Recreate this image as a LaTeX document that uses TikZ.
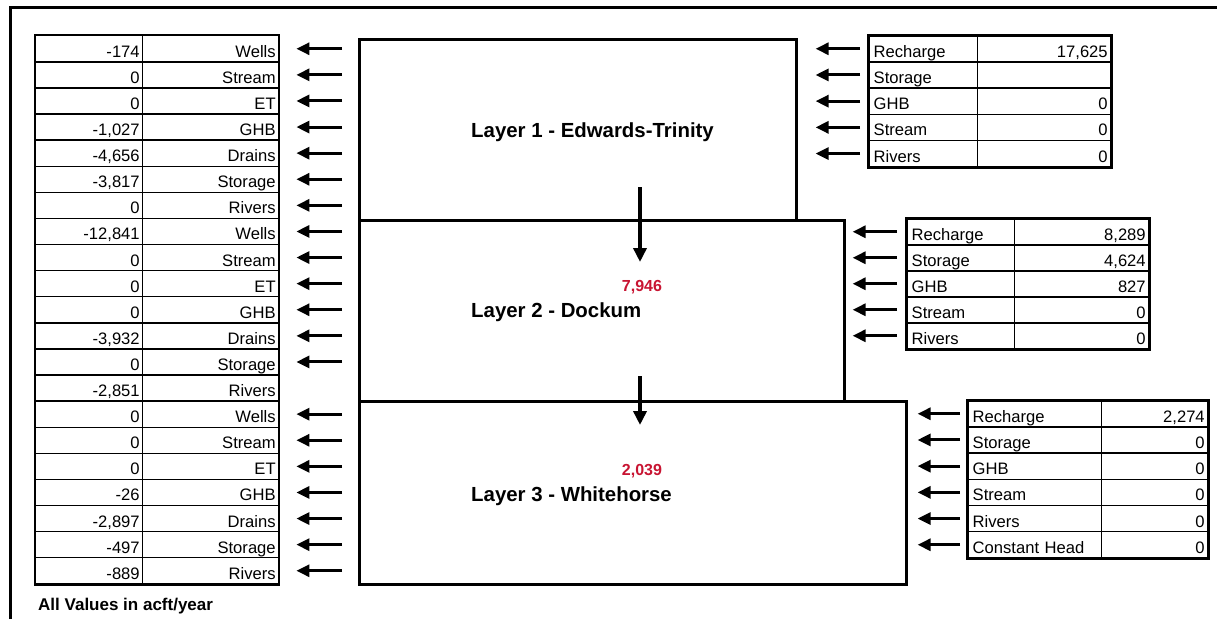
\documentclass[tikz,border=0pt]{standalone}
\usepackage{fontspec}
\setmainfont{Liberation Sans}
\usetikzlibrary{arrows.meta}
\definecolor{numred}{RGB}{200,20,50}
\newcommand\tabfont{\fontsize{16.6}{18}\selectfont}
\begin{document}
\begin{tikzpicture}[x=1pt,y=-1pt,
  cell/.style={draw, line width=1.4pt, inner ysep=0pt, minimum height=26.1pt,
    text height=18pt, text depth=1pt, font=\tabfont, anchor=north west},
  rcell/.style={cell, inner xsep=3pt, align=right},
  lcell/.style={cell, inner xsep=5pt, align=left},
  layerbox/.style={draw, line width=2.6pt, anchor=north west, inner sep=0pt},
  title/.style={font=\fontsize{20.4}{22}\selectfont\bfseries, anchor=base west, inner sep=0pt},
  rednum/.style={font=\fontsize{16}{18}\selectfont\bfseries, text=numred, anchor=base, inner sep=0pt},
  harr/.style={line width=3pt, -{Triangle[length=13pt,width=12pt]}},
  darr/.style={line width=4pt, -{Triangle[length=14pt,width=13pt]}},
  outer/.style={line width=3pt}
]
\useasboundingbox (0,0) rectangle (1217,619);
% frame
\draw[line width=3pt] (10,619) -- (10,7.5) -- (1217,7.5);

% layer boxes
\node[layerbox, minimum width=437pt, minimum height=181pt] (L1) at (358,38) {};
\node[layerbox, minimum width=485pt, minimum height=181pt] (L2) at (358,219) {};
\node[layerbox, minimum width=547pt, minimum height=183pt] (L3) at (358,400) {};

\node[title] (t1) at (471,137) {Layer 1 - Edwards-Trinity};
\node[title] (t2) at (471,317) {Layer 2 - Dockum};
\node[title] (t3) at (471,501) {Layer 3 - Whitehorse};
\node[rednum] (n1) at (642,291) {7,946};
\node[rednum] (n2) at (642,475) {2,039};

\coordinate (d1s) at (640,187);
\coordinate (d1e) at (640,262);
\coordinate (d2s) at (640,376);
\coordinate (d2e) at (640,425);
\draw[darr] (d1s) -- (d1e);
\draw[darr] (d2s) -- (d2e);

% left table
\foreach \v/\l [count=\i] in {-174/Wells, 0/Stream, 0/ET, {-1,027}/GHB, {-4,656}/Drains,
  {-3,817}/Storage, 0/Rivers, {-12,841}/Wells, 0/Stream, 0/ET, 0/GHB, {-3,932}/Drains,
  0/Storage, {-2,851}/Rivers, 0/Wells, 0/Stream, 0/ET, -26/GHB, {-2,897}/Drains,
  -497/Storage, -889/Rivers}{
  \node[rcell, text width=101pt] (la\i) at (35,{35+26.1*(\i-1)}) {\v};
  \node[rcell, text width=130pt] (lb\i) at (142,{35+26.1*(\i-1)}) {\l};
}
\draw[line width=2pt] (la1.north west) rectangle (lb21.south east);
\foreach \i in {1,2,3,4,5,6,7,8,9,10,11,12,13,15,16,17,18,19,20,21}{
  \draw[harr, shorten <=16pt, shorten >=17pt] (lb\i.east -| L1.west) -- (lb\i.east);
}

% right table 1
\foreach \l/\v [count=\i] in {Recharge/{17,625}, Storage/{}, GHB/0, Stream/0, Rivers/0}{
  \node[lcell, text width=99pt] (pa\i) at (868,{35+26.2*(\i-1)}) {\l};
  \node[rcell, text width=127pt] (pb\i) at (977,{35+26.2*(\i-1)}) {\v};
}
\draw[outer] (pa1.north west) rectangle (pb5.south east);
\foreach \i in {1,...,5}{
  \draw[harr, shorten <=8pt, shorten >=18pt] (pa\i.west) -- (pa\i.west -| L1.east);
}

% right table 2
\foreach \l/\v [count=\i] in {Recharge/{8,289}, Storage/{4,624}, GHB/827, Stream/0, Rivers/0}{
  \node[lcell, text width=98pt] (qa\i) at (906,{218+26*(\i-1)}) {\l};
  \node[rcell, text width=128pt] (qb\i) at (1014,{218+26*(\i-1)}) {\v};
}
\draw[outer] (qa1.north west) rectangle (qb5.south east);
\foreach \i in {1,...,5}{
  \draw[harr, shorten <=9pt, shorten >=7pt] (qa\i.west) -- (qa\i.west -| L2.east);
}

% right table 3
\foreach \l/\v [count=\i] in {Recharge/{2,274}, Storage/0, GHB/0, Stream/0, Rivers/0, Constant Head/0}{
  \node[lcell, text width=124pt] (sa\i) at (967,{400+26.2*(\i-1)}) {\l};
  \node[rcell, text width=100pt] (sb\i) at (1101,{400+26.2*(\i-1)}) {\v};
}
\draw[outer] (sa1.north west) rectangle (sb6.south east);
\foreach \i in {1,...,6}{
  \draw[harr, shorten <=7pt, shorten >=10pt] (sa\i.west) -- (sa\i.west -| L3.east);
}

\node[font=\fontsize{17}{18}\selectfont\bfseries, anchor=base west, inner sep=0pt] (note) at (38,610) {All Values in acft/year};
\end{tikzpicture}
\end{document}
